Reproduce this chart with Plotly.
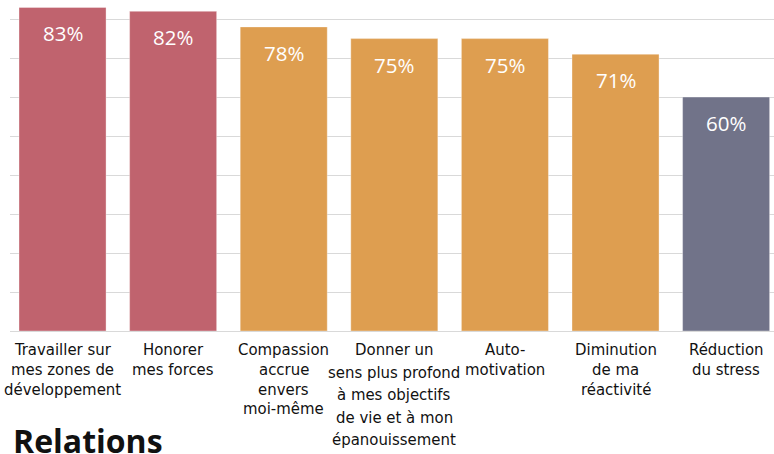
import plotly.graph_objects as go

categories = [
    "Travailler sur\nmes zones de\ndéveloppement",
    "Honorer\nmes forces",
    "Compassion\naccrue\nenvers\nmoi-même",
    "Donner un\nsens plus profond\nà mes objectifs\nde vie et à mon\népanouissement",
    "Auto-\nmotivation",
    "Diminution\nde ma\nréactivité",
    "Réduction\ndu stress",
]
values = [83, 82, 78, 75, 75, 71, 60]
colors = ["#C0636E", "#C0636E", "#DE9E50", "#DE9E50", "#DE9E50", "#DE9E50", "#717389"]
value_labels = [f"{v}%" for v in values]
section_title = "Relations"

# line spacing (px) of each category label
label_line_steps = [19.8, 19.8, 19.8, 22.6, 19.8, 19.8, 19.8]

xs = list(range(len(categories)))

fig = go.Figure()
fig.add_trace(go.Bar(
    x=xs, y=values, width=0.787,
    marker=dict(color=colors, line=dict(color="rgba(255,255,255,0.35)", width=1)),
    hoverinfo="skip",
))

annotations = []
for x, v, t in zip(xs, values, value_labels):
    annotations.append(dict(
        x=x, y=v, xref="x", yref="y", text=t, showarrow=False,
        yanchor="top", yshift=-10,
        font=dict(family="Open Sans", size=20.5, color="white"),
    ))

for x, cat, step in zip(xs, categories, label_line_steps):
    for i, line in enumerate(cat.split("\n")):
        annotations.append(dict(
            x=x, y=0, xref="x", yref="paper", text=line, showarrow=False,
            yanchor="top", yshift=-7 - i * step,
            font=dict(family="DejaVu Sans Condensed, Roboto", size=16.6, color="#111111"),
        ))

annotations.append(dict(
    x=0, y=0, xref="paper", yref="paper", text=f"<b>{section_title}</b>",
    showarrow=False, xanchor="left", yanchor="top", xshift=1, yshift=-86,
    font=dict(family="Open Sans", size=32, color="#111111"),
))

fig.update_layout(
    width=774, height=454,
    margin=dict(l=10, r=0, t=0, b=123, pad=0),
    paper_bgcolor="white", plot_bgcolor="white",
    showlegend=False,
    annotations=annotations,
    xaxis=dict(range=[-0.475, 6.433], showticklabels=False, showgrid=False,
               zeroline=False, fixedrange=True),
    yaxis=dict(range=[0, 84.9], dtick=10, showticklabels=False, showgrid=True,
               gridcolor="#D9D9D9", gridwidth=1, zeroline=True,
               zerolinecolor="#D9D9D9", zerolinewidth=1, fixedrange=True),
)

fig.write_html(
    "out.html",
    config={"displayModeBar": False},
    post_script="document.body.style.margin='0';document.body.style.overflow='hidden';",
)
